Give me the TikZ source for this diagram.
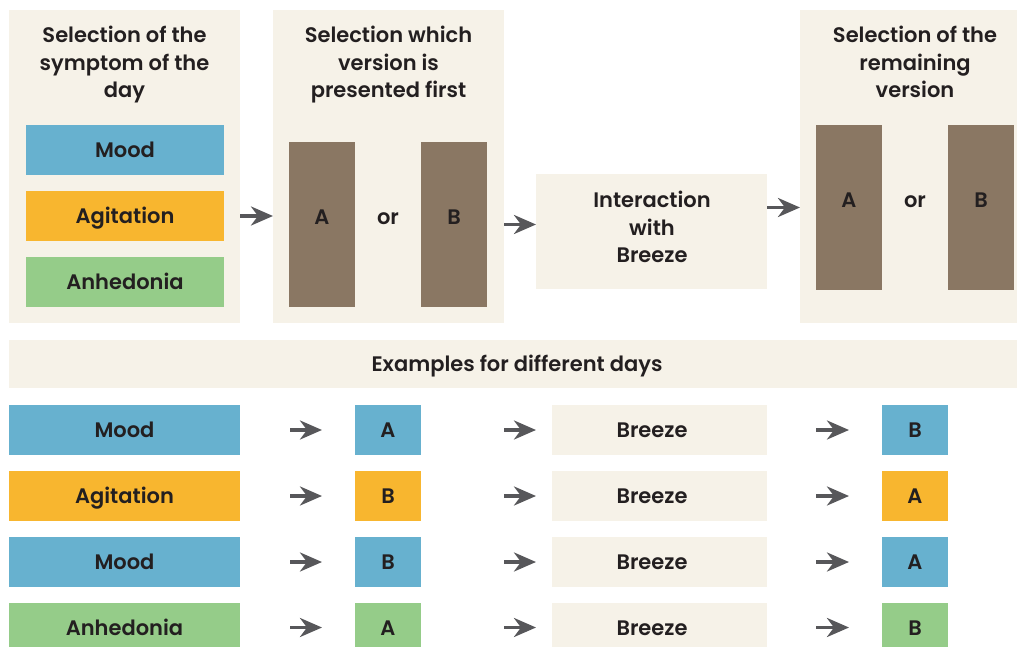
\documentclass[tikz,border=0pt]{standalone}
\usepackage{fontspec}
\IfFontExistsTF{Poppins SemiBold}{\setmainfont{Poppins SemiBold}}{\setmainfont{Poppins}[UprightFont=*,BoldFont=* Bold]}
\usetikzlibrary{arrows.meta}
\definecolor{beige}{HTML}{F6F2E8}
\definecolor{cblue}{HTML}{67B1CF}
\definecolor{corange}{HTML}{F8B62F}
\definecolor{cgreen}{HTML}{95CC89}
\definecolor{cbrown}{HTML}{8A7763}
\definecolor{ctext}{HTML}{231F20}
\definecolor{carrow}{HTML}{57575A}
\tikzset{
  panel/.style={fill=beige, draw=none, inner sep=0, outer sep=0},
  cbox/.style={draw=none, inner sep=0, outer sep=0},
  lbl/.style={text=ctext, font=\fontsize{21}{27.5}\selectfont, inner sep=0, text height=15pt, text depth=0pt},
  ttl/.style={text=ctext, font=\fontsize{21}{27.5}\selectfont, inner sep=0, align=center},
  arr/.style={draw=carrow, line width=3.5pt, -{Stealth[length=22pt, width=19pt, inset=7pt]}}
}
\begin{document}
\begin{tikzpicture}[x=1pt, y=-1pt]
\useasboundingbox (0,0) rectangle (1017,647);
% top panels
\node[panel, minimum width=231, minimum height=313] (p1) at (124.5,166.5) {};
\node[panel, minimum width=231, minimum height=313] (p2) at (388.5,166.5) {};
\node[panel, minimum width=231, minimum height=115] (p3) at (651.5,231.5) {};
\node[panel, minimum width=217, minimum height=313] (p4) at (908.5,166.5) {};
% titles
\node[ttl] (t1) at (124.5,65) {Selection of the\\symptom of the\\day};
\node[ttl] (t2) at (388.5,65) {Selection which\\version is\\presented first};
\node[ttl] (t4) at (915,62) {Selection of the\\remaining\\version};
\node[ttl] (t3) at (652,227) {Interaction\\with\\Breeze};
% panel 1 boxes
\node[cbox, fill=cblue, minimum width=198, minimum height=50] (mood) at (125,150) {};
\node[lbl] at (mood) {Mood};
\node[cbox, fill=corange, minimum width=198, minimum height=50] (agit) at (125,216) {};
\node[lbl] at (agit) {Agitation};
\node[cbox, fill=cgreen, minimum width=198, minimum height=50] (anhe) at (125,282) {};
\node[lbl] at (anhe) {Anhedonia};
% panel 2 boxes
\node[cbox, fill=cbrown, minimum width=66, minimum height=165] (a2) at (322,224.5) {};
\node[cbox, fill=cbrown, minimum width=66, minimum height=165] (b2) at (454,224.5) {};
\node[lbl] (a2l) at (322,217) {A};
\node[lbl] (or2) at (388,217) {or};
\node[lbl] (b2l) at (454,217) {B};
% panel 4 boxes
\node[cbox, fill=cbrown, minimum width=66, minimum height=165] (a4) at (849,207.5) {};
\node[cbox, fill=cbrown, minimum width=66, minimum height=165] (b4) at (981,207.5) {};
\node[lbl] (a4l) at (849,200) {A};
\node[lbl] (or4) at (915,200) {or};
\node[lbl] (b4l) at (981,200) {B};
% top arrows
\draw[arr] (p1.east |- agit.center) -- (p2.west |- agit.center);
\draw[arr] (p2.east |- a2.center) -- (p3.west |- a2.center);
\draw[arr] (p3.east |- a4.center) -- (p4.west |- a4.center);
% examples banner
\node[panel, minimum width=1008, minimum height=48] (ex) at (513,364) {};
\node[lbl] (exl) at (517,364) {Examples for different days};
% rows
\foreach \i/\y/\sym/\sc/\first/\fc/\second/\secc in {
  1/430/Mood/cblue/A/cblue/B/cblue,
  2/496/Agitation/corange/B/corange/A/corange,
  3/562/Mood/cblue/B/cblue/A/cblue,
  4/627.5/Anhedonia/cgreen/A/cgreen/B/cgreen}{
  \node[cbox, fill=\sc, minimum width=231, minimum height=50] (s\i) at (124.5,\y) {};
  \node[lbl] at (s\i) {\sym};
  \node[cbox, fill=\fc, minimum width=66, minimum height=50] (f\i) at (388,\y) {};
  \node[lbl] at (f\i) {\first};
  \node[cbox, fill=beige, minimum width=215, minimum height=50] (br\i) at (659.5,\y) {};
  \node[lbl] at (652,\y) {Breeze};
  \node[cbox, fill=\secc, minimum width=66, minimum height=50] (r\i) at (915,\y) {};
  \node[lbl] at (r\i) {\second};
  \draw[arr] ([xshift=50]s\i.east) -- ([xshift=-33]f\i.west);
  \draw[arr] ([xshift=83]f\i.east) -- ([xshift=-16]br\i.west);
  \draw[arr] ([xshift=49]br\i.east) -- ([xshift=-33]r\i.west);
}
\end{tikzpicture}
\end{document}
